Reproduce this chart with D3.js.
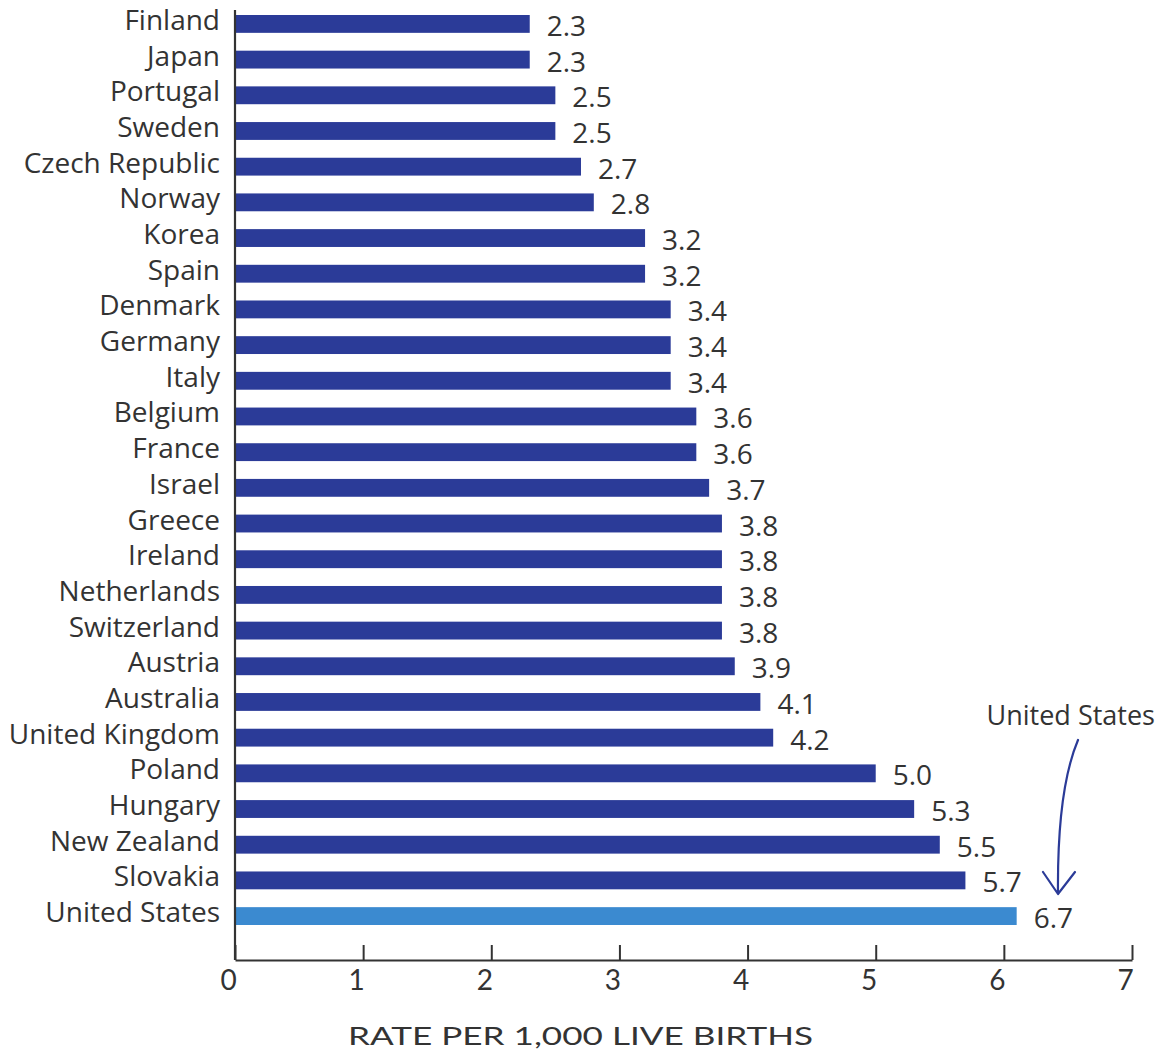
<!DOCTYPE html>
<html>
<head>
<meta charset="utf-8">
<script src="https://cdn.jsdelivr.net/npm/d3@7"></script>
<style>
  html, body { margin: 0; padding: 0; background: #ffffff; }
  svg { display: block; }
</style>
</head>
<body>
<svg id="chart" width="1157" height="1053"></svg>
<script>
// ---- data ----
const countries = ["Finland","Japan","Portugal","Sweden","Czech Republic","Norway","Korea","Spain","Denmark","Germany","Italy","Belgium","France","Israel","Greece","Ireland","Netherlands","Switzerland","Austria","Australia","United Kingdom","Poland","Hungary","New Zealand","Slovakia","United States"];
// bar lengths as drawn in the picture (the US bar is drawn shorter than its label)
const barValues = [2.3,2.3,2.5,2.5,2.7,2.8,3.2,3.2,3.4,3.4,3.4,3.6,3.6,3.7,3.8,3.8,3.8,3.8,3.9,4.1,4.2,5.0,5.3,5.5,5.7,6.1];
const valueLabels = ["2.3","2.3","2.5","2.5","2.7","2.8","3.2","3.2","3.4","3.4","3.4","3.6","3.6","3.7","3.8","3.8","3.8","3.8","3.9","4.1","4.2","5.0","5.3","5.5","5.7","6.7"];
const xTicks = [0,1,2,3,4,5,6,7];
const xTitle = "RATE PER 1,000 LIVE BIRTHS";
const highlight = "United States";
const annotationText = "United States";

const data = countries.map((c, i) => ({ country: c, value: barValues[i], label: valueLabels[i] }));

const svg = d3.select("#chart");
const darkBlue = "#2b3b98";
const lightBlue = "#3b8ad0";
const textColor = "#333333";

const x = d3.scaleLinear().domain([0, 7]).range([235, 1132]);
const y = d3.scaleBand().domain(countries).range([15, 925]).paddingInner(0.5).paddingOuter(0);

// bars
svg.append("g").selectAll("rect").data(data).join("rect")
  .attr("x", x(0))
  .attr("y", d => y(d.country))
  .attr("width", d => x(d.value) - x(0))
  .attr("height", y.bandwidth())
  .attr("fill", d => d.country === highlight ? lightBlue : darkBlue);

// value labels
svg.append("g").selectAll("text").data(data).join("text")
  .attr("x", d => x(d.value) + 17)
  .attr("y", d => y(d.country) + y.bandwidth() / 2 + 12)
  .attr("font-family", "'Open Sans', sans-serif")
  .attr("font-size", 28)
  .attr("fill", textColor)
  .text(d => d.label);

// y axis (country labels)
const yAxis = d3.axisLeft(y).tickSize(0).tickPadding(15);
const gy = svg.append("g").attr("transform", `translate(${x(0)},0)`).call(yAxis);
gy.select(".domain").remove();
gy.selectAll("text")
  .attr("font-family", "'Open Sans', sans-serif")
  .attr("font-size", 28)
  .attr("fill", textColor)
  .attr("dy", null)
  .attr("y", 6)
  .attr("dominant-baseline", "auto");

// vertical axis line
svg.append("line")
  .attr("x1", x(0)).attr("x2", x(0))
  .attr("y1", 10).attr("y2", 960)
  .attr("stroke", textColor).attr("stroke-width", 2.2);

// x axis
const xAxis = d3.axisBottom(x).tickValues(xTicks).tickFormat(d3.format("d"))
  .tickSizeInner(-15).tickSizeOuter(0).tickPadding(0);
const gx = svg.append("g").attr("transform", "translate(0,960)").call(xAxis);
gx.select(".domain").attr("stroke", textColor).attr("stroke-width", 2.2);
gx.selectAll(".tick line").attr("stroke", textColor).attr("stroke-width", 2);
gx.selectAll(".tick text")
  .attr("font-family", "Lato, sans-serif")
  .attr("font-weight", 400)
  .attr("font-size", 28)
  .attr("fill", textColor)
  .attr("dy", null)
  .attr("y", 30)
  .attr("dx", -7);

// x title
svg.append("text")
  .attr("x", 580.5).attr("y", 1045)
  .attr("text-anchor", "middle")
  .attr("font-family", "Lato, sans-serif")
  .attr("font-weight", 400)
  .attr("font-size", 25)
  .attr("fill", textColor)
  .attr("textLength", 465)
  .attr("lengthAdjust", "spacingAndGlyphs")
  .text(xTitle);

// annotation
svg.append("text")
  .attr("x", 1155).attr("y", 725)
  .attr("text-anchor", "end")
  .attr("font-family", "'Open Sans', sans-serif")
  .attr("font-size", 27)
  .attr("fill", textColor)
  .text(annotationText);

const arrow = d3.path();
arrow.moveTo(1078, 740);
arrow.quadraticCurveTo(1057, 790, 1058, 894);
arrow.moveTo(1043, 872);
arrow.lineTo(1058, 894);
arrow.lineTo(1075, 872);
svg.append("path")
  .attr("d", arrow.toString())
  .attr("fill", "none")
  .attr("stroke", darkBlue)
  .attr("stroke-width", 2.2)
  .attr("stroke-linecap", "round")
  .attr("stroke-linejoin", "round");
</script>
</body>
</html>
